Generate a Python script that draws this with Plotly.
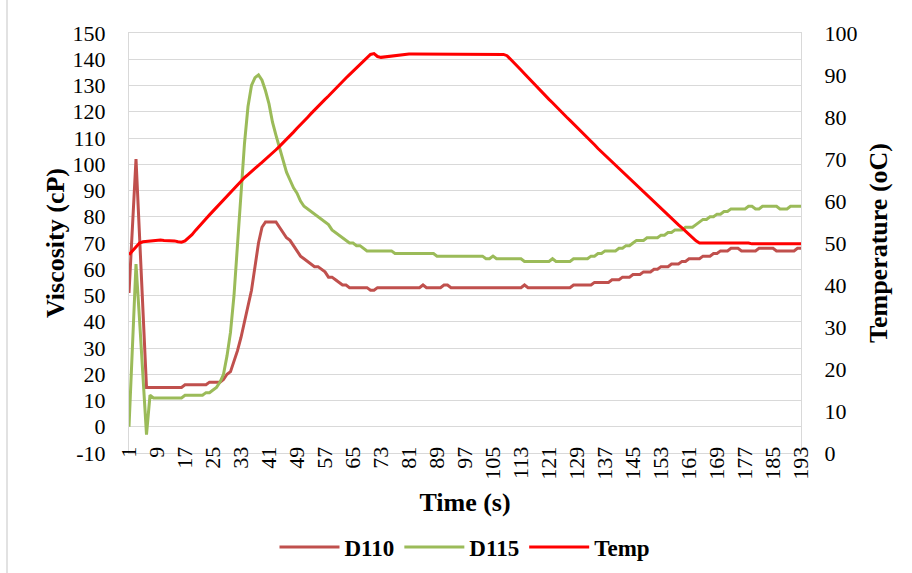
import plotly.graph_objects as go

times = list(range(1, 194))
tick_labels = [str(v) for v in range(1, 194, 8)]
visc_ticks = list(range(-10, 151, 10))
visc_tick_text = [str(v) for v in visc_ticks]

d110 = [
    51, 76, 102, 73, 44, 15, 15, 15, 15, 15,
    15, 15, 15, 15, 15, 15, 16, 16, 16, 16,
    16, 16, 16, 17, 17, 17, 17, 18, 20, 21,
    25, 29, 34, 40, 46, 52, 61, 70, 76, 78,
    78, 78, 78, 76, 74, 72, 71, 69, 67, 65,
    64, 63, 62, 61, 61, 60, 59, 57, 57, 56,
    55, 54, 54, 53, 53, 53, 53, 53, 53, 52,
    52, 53, 53, 53, 53, 53, 53, 53, 53, 53,
    53, 53, 53, 53, 54, 53, 53, 53, 53, 53,
    54, 54, 53, 53, 53, 53, 53, 53, 53, 53,
    53, 53, 53, 53, 53, 53, 53, 53, 53, 53,
    53, 53, 53, 54, 53, 53, 53, 53, 53, 53,
    53, 53, 53, 53, 53, 53, 53, 54, 54, 54,
    54, 54, 54, 55, 55, 55, 55, 55, 56, 56,
    56, 57, 57, 57, 58, 58, 58, 59, 59, 59,
    60, 60, 61, 61, 61, 62, 62, 62, 63, 63,
    64, 64, 64, 64, 65, 65, 65, 66, 66, 67,
    67, 67, 68, 68, 68, 67, 67, 67, 67, 67,
    68, 68, 68, 68, 68, 67, 67, 67, 67, 67,
    67, 68, 68,
]

d115 = [
    0, 31, 62, 41, 19, -3, 12, 11, 11, 11,
    11, 11, 11, 11, 11, 11, 12, 12, 12, 12,
    12, 12, 13, 13, 14, 15, 17, 20, 27, 36,
    50, 70, 90, 108, 122, 130, 133, 134, 132, 128,
    123, 116, 111, 106, 101, 97, 94, 91, 89, 86,
    84, 83, 82, 81, 80, 79, 78, 77, 75, 74,
    73, 72, 71, 70, 70, 69, 69, 68, 67, 67,
    67, 67, 67, 67, 67, 67, 66, 66, 66, 66,
    66, 66, 66, 66, 66, 66, 66, 66, 65, 65,
    65, 65, 65, 65, 65, 65, 65, 65, 65, 65,
    65, 65, 64, 64, 65, 64, 64, 64, 64, 64,
    64, 64, 64, 63, 63, 63, 63, 63, 63, 63,
    63, 64, 63, 63, 63, 63, 63, 64, 64, 64,
    64, 64, 65, 65, 66, 66, 67, 67, 67, 67,
    68, 68, 69, 69, 70, 71, 71, 71, 72, 72,
    72, 72, 73, 73, 74, 74, 75, 75, 75, 76,
    76, 76, 77, 78, 79, 79, 80, 80, 81, 81,
    82, 82, 83, 83, 83, 83, 83, 84, 84, 83,
    83, 84, 84, 84, 84, 84, 83, 83, 83, 84,
    84, 84, 84,
]

temp = [
    47.2, 48.2, 49.2, 50.0, 50.3, 50.4, 50.5, 50.6, 50.6, 50.7,
    50.6, 50.6, 50.6, 50.5, 50.3, 50.2, 50.5, 51.2, 52.0, 53.0,
    54.0, 54.9, 55.8, 56.7, 57.6, 58.4, 59.3, 60.2, 61.3, 62.2,
    63.1, 64.0, 64.8, 65.6, 66.3, 67.1, 67.8, 68.5, 69.2, 69.9,
    70.6, 71.4, 72.2, 73.0, 73.8, 74.7, 75.5, 76.4, 77.3, 78.1,
    79.0, 79.9, 80.8, 81.7, 82.5, 83.3, 84.2, 85.0, 85.9, 86.8,
    87.7, 88.5, 89.3, 90.1, 90.9, 91.7, 92.6, 93.4, 94.2, 94.9,
    95.1, 94.4, 94.2, 94.3, 94.5, 94.6, 94.7, 94.7, 94.8, 94.9,
    95.0, 95.0, 95.0, 95.0, 95.0, 95.0, 95.0, 95.0, 95.0, 95.0,
    95.0, 95.0, 95.0, 95.0, 95.0, 95.0, 95.0, 95.0, 95.0, 95.0,
    95.0, 95.0, 95.0, 95.0, 95.0, 95.0, 95.0, 94.9, 94.6, 93.8,
    93.0, 92.1, 91.2, 90.3, 89.4, 88.5, 87.6, 86.8, 85.9, 85.0,
    84.2, 83.4, 82.5, 81.7, 80.9, 80.0, 79.2, 78.4, 77.5, 76.7,
    75.8, 75.0, 74.2, 73.4, 72.5, 71.7, 70.9, 70.1, 69.3, 68.5,
    67.7, 67.0, 66.2, 65.4, 64.6, 63.8, 63.0, 62.2, 61.4, 60.6,
    59.8, 59.0, 58.2, 57.4, 56.7, 55.9, 55.1, 54.3, 53.6, 52.8,
    52.0, 51.2, 50.5, 50.0, 50.0, 50.0, 50.0, 50.0, 50.0, 50.0,
    50.0, 50.0, 50.0, 50.0, 50.0, 50.0, 50.0, 50.0, 49.8, 49.8,
    49.8, 49.8, 49.8, 49.8, 49.8, 49.8, 49.8, 49.8, 49.8, 49.8,
    49.8, 49.8, 49.8,
]

FONT = "Liberation Serif"
GRID = "#D9D9D9"
TICKFONT = dict(family=FONT, size=22, color="black")
TITLEFONT = dict(family=FONT, size=26, color="black", weight="bold")

fig = go.Figure()
fig.add_trace(go.Scatter(x=times, y=d110, name="D110", mode="lines",
                         line=dict(color="#C0504D", width=3)))
fig.add_trace(go.Scatter(x=times, y=d115, name="D115", mode="lines",
                         line=dict(color="#9BBB59", width=3)))
fig.add_trace(go.Scatter(x=times, y=temp, name="Temp", mode="lines",
                         line=dict(color="#FF0000", width=3), yaxis="y2"))

W, H = 912, 573
L, R, T, B = 129, 111, 33, 120
pw, ph = W - L - R, H - T - B

fig.update_layout(
    width=W, height=H,
    margin=dict(l=L, r=R, t=T, b=B, autoexpand=False),
    paper_bgcolor="white", plot_bgcolor="white",
    font=dict(family=FONT, size=22, color="black"),
    showlegend=True,
    legend=dict(orientation="h", x=0.5, xanchor="center", y=-0.224, yanchor="middle",
                font=dict(family=FONT, size=23, color="black", weight="bold"),
                itemwidth=60, traceorder="normal"),
    xaxis=dict(
        range=[1, 193], tickmode="array",
        tickvals=[int(v) for v in tick_labels], ticktext=tick_labels,
        tickangle=-90, ticks="", showgrid=False, zeroline=False,
        showline=True, linecolor=GRID, linewidth=1, mirror=True,
        ticklabelstandoff=-16, tickfont=TICKFONT,
        title=dict(text="Time (s)", font=TITLEFONT, standoff=14),
        automargin=False,
    ),
    yaxis=dict(
        range=[-10, 150], tickmode="array", tickvals=visc_ticks, ticktext=visc_tick_text,
        showgrid=True, gridcolor=GRID, gridwidth=1,
        zeroline=False, showline=True, linecolor=GRID, linewidth=1, ticks="",
        ticklabelstandoff=18, tickfont=TICKFONT,
        title=dict(text="Viscosity (cP)", font=TITLEFONT, standoff=0),
        automargin=False,
    ),
    yaxis2=dict(
        range=[0, 100], dtick=10, overlaying="y", side="right", showgrid=False,
        zeroline=False, showline=True, linecolor=GRID, linewidth=1, ticks="",
        ticklabelstandoff=18, tickfont=TICKFONT,
        title=dict(text="Temperature (oC)", font=TITLEFONT, standoff=12),
        automargin=False,
    ),
    shapes=[
        dict(type="line", xref="paper", yref="paper",
             x0=(7 - L) / pw, x1=(7 - L) / pw, y0=(H - T - 7) / ph, y1=-(B + 5) / ph,
             line=dict(color=GRID, width=1.5)),
        dict(type="line", xref="paper", yref="paper",
             x0=(7 - L) / pw, x1=(W + 5 - L) / pw, y0=(H - T - 7) / ph, y1=(H - T - 7) / ph,
             line=dict(color=GRID, width=1.5)),
    ],
)

fig.write_html("out.html", config={"displayModeBar": False},
               post_script="document.body.style.margin='0';document.body.style.overflow='hidden';")
